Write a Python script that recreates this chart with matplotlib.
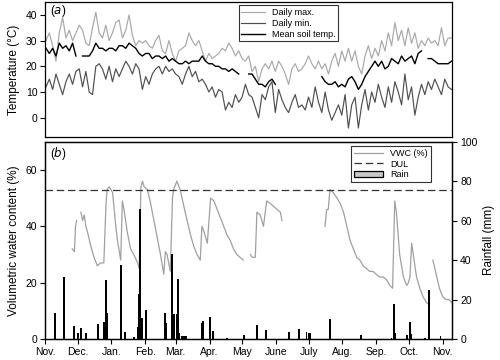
import numpy as np
import matplotlib
matplotlib.use('Agg')
import matplotlib.pyplot as plt
from matplotlib.patches import Patch
from matplotlib.lines import Line2D

plt.rcParams['font.family'] = ['Liberation Sans', 'DejaVu Sans']

# ---------------- data ----------------
month_days = [0, 30, 61, 92, 120, 151, 181, 212, 242, 273, 304, 334, 365]
month_labels = ['Nov.', 'Dec.', 'Jan.', 'Feb.', 'Mar.', 'Apr.', 'May', 'June',
                'July', 'Aug.', 'Sep.', 'Oct.', 'Nov.']

nan = np.nan
# temperatures sampled every ~3 days from Nov 1
tmax = [30, 33, 28, 22, 33, 39, 31, 34, 30, 33,
        36, 34, 29, 28, 35, 41, 33, 31, 36, 30,
        33, 37, 38, 31, 34, 40, 32, 28, 30, 29,
        30, 28, 27, 30, 32, 26, 25, 30, 25, 22,
        26, 27, 28, 33, 30, 28, 30, 26, 22, 25,
        23, 24, 25, 27, 26, 29, 27, 24, 26, 23,
        22, 24, 18, 20, 14, 19, 21, 19, 22, 18,
        22, 20, 17, 13, 19, 21, 18, 19, 21, 24,
        21, 19, 22, 19, 21, 17, 22, 25, 20, 26,
        22, 27, 22, 26, 20, 17, 24, 28, 23, 27,
        24, 30, 26, 33, 28, 37, 30, 34, 28, 35,
        29, 33, 27, 30, 28, 31, 29, 30, 28, 35,
        28, 31, 31]
tmin = [12, 15, 11, 17, 13, 9, 14, 17, 13, 18,
        19, 12, 18, 10, 9, 20, 21, 19, 15, 20,
        14, 19, 16, 19, 22, 20, 17, 21, 19, 11,
        16, 13, 17, 19, 20, 17, 20, 18, 19, 17,
        16, 13, 17, 20, 16, 18, 14, 15, 13, 10,
        12, 8, 11, 10, 3, 6, 4, 9, 6, 8,
        13, 9, 8, 4, 0, 9, 7, 12, 14, 2,
        11, 7, 4, 2, 6, 9, 4, 5, 3, 8,
        4, 12, 6, 2, 10, 3, -1, 2, 5, 1,
        9, -4, 5, 8, -4, 5, 11, 3, 10, 6,
        13, 8, 4, 12, 6, 14, 10, 5, 17, 7,
        12, 1, 8, 13, 9, 14, 11, 15, 12, 9,
        15, 12, 11]
tsoil = [27, 25, 27, 24, 29, 27, 28, 26, 29, 24,
         nan, 24, 24, 24, 26, 29, 27, 27, 26, 27,
         27, 26, 28, 28, 27, 29, 28, 27, 25, 24,
         25, 25, 23, 24, 24, 23, 24, 22, 23, 22,
         21, 21, 22, 21, 22, 22, 22, 24, 22, 21,
         21, 20, 20, 19, 19, 18, 19, 18, 17, nan,
         nan, 17, 17, 15, 13, 13, 12, 14, 15, 13,
         nan, nan, nan, nan, nan, nan, nan, nan, nan, nan,
         nan, nan, nan, 16, 14, 13, 13, 14, 12, 13,
         12, 15, 16, 14, 11, 13, 16, 18, 20, 22,
         20, 22, 19, 20, 23, 22, 21, 24, 22, 23,
         24, 21, 25, 26, nan, 23, 23, 22, 21, 21,
         21, 21, 22]

vwc_day = [25, 27, 28, 29, nan,
           33, 34.5, 36, 37.5, 39, 42, 45, 48, 51, 54, 56, 57, 59, 62, 65, 66.5,
           69.5, 71, 72.5, 75.5, 78.5, 81.5, 85, 86.5, 88, 89.5, 91, 94, 97, 100,
           103, 106, 109, 110.5, 112, 113.5, 115, 117, 118, 121, 124, 127.5, 130.5,
           133.5, 136.5, 139.5, 142.5, 144, 146, 149, 152, 155, 158, 161, 164, 167,
           170, 173, 176, 179, 182, nan,
           188.5, 190, 193, 194.5, 197.5, 200.5, 203.5, 207, 210, 213, 216, 217.5, nan,
           257, 258.5, 260, 261.5, 264.5, 268, 271, 274, 277, 280, 283, 286, 289,
           292, 295, 298, 301, 304, 307, 310.5, 313.5, 316.5, 319, 321, 322.5,
           325.5, 329, 332, 333.5, 335, 336.5, 338, 341, 344, 347, 350, 351.5, nan,
           356, 359, 362, 365, 368, 371, 373]
vwc = [32, 31, 40, 42, nan,
       45, 42, 44, 40, 38, 33, 29, 26, 27, 27, 48, 53, 54, 52, 40, 35,
       28, 49, 46, 38, 32, 30, 27, 25, 54, 56, 54, 53, 48, 42,
       36, 30, 23, 31, 30, 27, 24, 50, 53, 56, 53, 47, 42,
       37, 33, 30, 28, 40, 38, 34, 50, 49, 46, 43, 40, 37,
       35, 32, 30, 29, 28, nan,
       30, 29, 29, 45, 44, 40, 49, 48, 47, 46, 45, 42, nan,
       40, 46, 46, 53, 52, 50, 48, 45, 40, 35, 32, 29, 28,
       26, 25, 24, 24, 23, 22, 22, 21, 19, 18, 49, 45,
       30, 22, 19, 20, 22, 34, 30, 22, 18, 15, 13, 12.5, nan,
       28, 23, 18, 15, 14, 14, 13]
dul = 53

rain_day = [9.5, 17, 27, 30, 33, 38, 49, 54, 56, 57,
            70, 73, 82, 85, 86, 87.5, 89, 93, 110, 111,
            117, 118, 121, 122, 123, 126, 127.5, 129, 144, 145,
            151, 154, 167, 183, 195, 203, 224, 233, 240, 242,
            243, 262, 290, 318, 320, 321, 332, 335, 336, 349,
            352, 363]
rain_mm = [13.4, 31.4, 6.5, 3, 5.5, 3, 7.6, 8.6, 29.7, 13,
           37.3, 3.7, 1, 6.2, 23, 65.9, 10.8, 14.5, 13.1, 8.2,
           42.9, 12.6, 12.6, 30.3, 2.9, 1.7, 1.5, 1.5, 7.9, 9.2,
           11.4, 3.9, 0.5, 2, 6.9, 4.4, 3.4, 5, 3.4, 3.2,
           3.2, 10.3, 2, 0.5, 18, 3, 2, 8.4, 2.5, 0.5,
           24.7, 1.5]

# ---------------- plot ----------------
c_max = '#a8a8a8'
c_min = '#4f4f4f'
c_vwc = '#a0a0a0'

t_day = 0.915 + 3.05 * np.arange(len(tmax))

fig = plt.figure(figsize=(5, 3.6), dpi=100)
ax1 = fig.add_axes([0.09, 0.6194, 0.815, 0.375])
ax2 = fig.add_axes([0.09, 0.0583, 0.815, 0.548])

l1, = ax1.plot(t_day, tmax, color=c_max, lw=0.85, label='Daily max.')
l2, = ax1.plot(t_day, tmin, color=c_min, lw=0.85, label='Daily min.')
l3, = ax1.plot(t_day, tsoil, color='black', lw=1.0, label='Mean soil temp.')
ax1.set_xlim(0, 374)
ax1.set_ylim(-7.5, 45)
ax1.set_yticks([0, 10, 20, 30, 40])
ax1.tick_params(axis='x', bottom=False, labelbottom=False)
ax1.tick_params(axis='y', direction='out', length=3.5, width=0.8, labelsize=7.5, pad=2)
ax1.set_ylabel('Temperature (°C)', fontsize=8.5, labelpad=4)
ax1.text(0.012, 0.935, '($\\it{a}$)', transform=ax1.transAxes, fontsize=8.5, va='center')
leg1 = ax1.legend(handles=[l1, l2, l3], loc='upper left', bbox_to_anchor=(0.475, 0.975),
                  fontsize=6.5, frameon=True, fancybox=False, edgecolor='black',
                  borderpad=0.3, labelspacing=0.2, handlelength=2.6, borderaxespad=0)
leg1.get_frame().set_linewidth(0.8)

ax2.plot(vwc_day, vwc, color=c_vwc, lw=0.9)
ax2.axhline(dul, color='#333333', lw=0.9, linestyle=(0, (6, 3)))
ax2.set_xlim(0, 374)
ax2.set_ylim(0, 70)
ax2.set_yticks([0, 20, 40, 60])
ax2.set_xticks(month_days)
ax2.set_xticklabels(month_labels)
ax2.tick_params(axis='both', direction='out', length=3.5, width=0.8, labelsize=7.5, pad=2)
ax2.set_ylabel('Volumetric water content (%)', fontsize=8.5, labelpad=4)
ax2.text(0.012, 0.94, '($\\it{b}$)', transform=ax2.transAxes, fontsize=8.5, va='center')

ax3 = ax2.twinx()
ax3.bar(rain_day, rain_mm, width=1.8, color='black', align='center')
ax3.set_xlim(0, 374)
ax3.set_ylim(0, 100)
ax3.set_yticks([0, 20, 40, 60, 80, 100])
ax3.tick_params(axis='y', direction='out', length=3.5, width=0.8, labelsize=7.5, pad=2)
ax3.set_ylabel('Rainfall (mm)', fontsize=8.5, labelpad=4)

h_vwc = Line2D([], [], color=c_vwc, lw=0.9)
h_dul = Line2D([], [], color='#333333', lw=0.9, linestyle=(0, (6, 3)))
h_rain = Patch(facecolor='#c8c8c8', edgecolor='black', linewidth=0.9)
leg2 = ax3.legend([h_vwc, h_dul, h_rain], ['VWC (%)', 'DUL', 'Rain'],
                  loc='upper left', bbox_to_anchor=(0.752, 0.978), fontsize=6.5,
                  frameon=True, fancybox=False, edgecolor='black', borderpad=0.3,
                  labelspacing=0.2, handlelength=3.2, borderaxespad=0)
leg2.get_frame().set_linewidth(0.8)

for ax in (ax1, ax2, ax3):
    for s in ax.spines.values():
        s.set_linewidth(0.9)
        s.set_color('black')

fig.savefig('out.png', dpi=100)
